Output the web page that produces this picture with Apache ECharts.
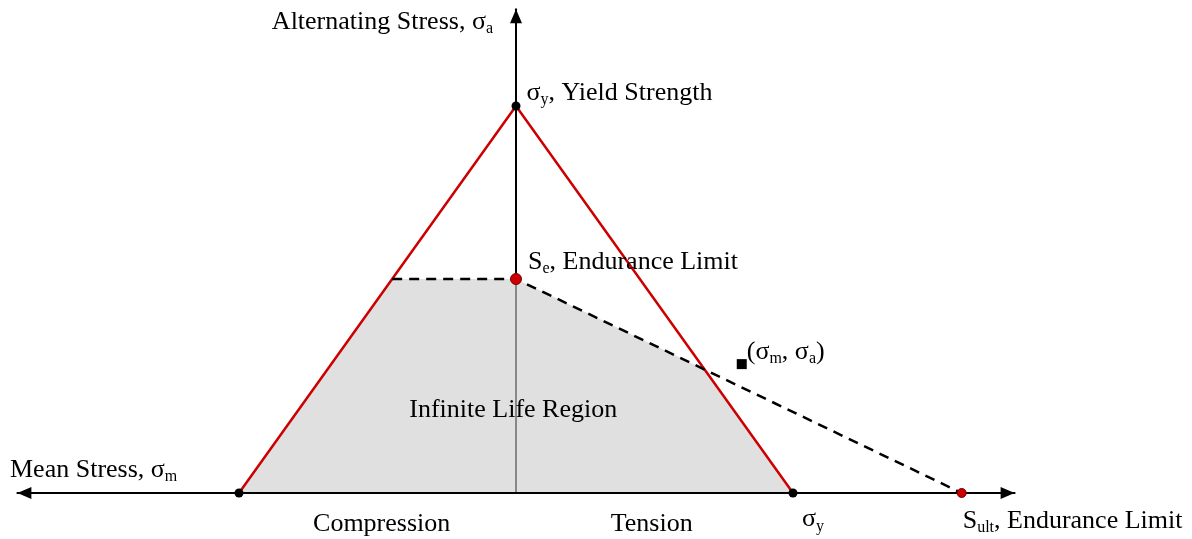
<!DOCTYPE html>
<html><head><meta charset="utf-8">
<script src="https://cdn.jsdelivr.net/npm/echarts@6/dist/echarts.min.js"></script>
<style>html,body{margin:0;padding:0;background:#fff}#c{width:1192px;height:539px}</style>
</head><body><div id="c"></div>
<script>
// Stress values, expressed as fractions of the yield strength σy
const yieldStrength = 1.0;        // σy
const enduranceLimit = 0.553;     // Se
const ultimateStrength = 1.609;   // Sult
const stressPoint = [0.815, 0.333];           // (σm, σa)
const regionNames = ['Compression', 'Tension'];
const regionCenters = [-0.485, 0.49];
const lifeRegionName = 'Infinite Life Region';
const lifeRegionAt = [-0.01, 0.215];
const xRange = [-1.8, 1.8];
const yRange = [0, 1.25];

// derived geometry (from the values above)
const sy = yieldStrength, se = enduranceLimit, su = ultimateStrength;
const yieldLine = [[-sy, 0], [0, sy], [sy, 0]];
const seLeft = [-(sy - se), se];               // Se level meets compressive yield line
const ix = (sy - se) / (1 - se / su);          // Goodman line meets tensile yield line
const goodmanYield = [ix, sy - ix];
const goodmanLine = [seLeft, [0, se], [su, 0]];
const safeRegion = [[-sy, 0], seLeft, [0, se], goodmanYield, [sy, 0]];

const FONT = 'Liberation Serif';
const FS = 26;
const rich = {
  n: { fontFamily: FONT, fontSize: FS, color: '#000', lineHeight: 30, textBorderWidth: 0 },
  s: { fontFamily: FONT, fontSize: 16, color: '#000', lineHeight: 16, padding: [14, 0, 0, 0], verticalAlign: 'bottom', textBorderWidth: 0 }
};
function lbl(extra) {
  return Object.assign({ show: true, fontFamily: FONT, fontSize: FS, color: '#000', opacity: 1, textBorderWidth: 0, rich: rich }, extra);
}
const TRI = 'path://M0,14 L6,0 L12,14 Z';

const chart = echarts.init(document.getElementById('c'), null, { renderer: 'canvas' });
chart.setOption({
  animation: false,
  backgroundColor: '#fff',
  grid: { left: 17.4, right: 177.4, top: 9.25, bottom: 46, containLabel: false, outerBoundsMode: 'none' },
  xAxis: {
    type: 'value', min: xRange[0], max: xRange[1], z: 3,
    axisLine: { show: true, onZero: true, symbol: [TRI, TRI], symbolSize: [12, 14], symbolOffset: [7, -7], lineStyle: { color: '#000', width: 2 } },
    axisTick: { show: false }, axisLabel: { show: false }, splitLine: { show: false },
    name: '{n|Mean Stress, σ}{s|m}', nameLocation: 'start', nameGap: 7.4, nameMoveOverlap: false,
    nameTextStyle: { align: 'left', verticalAlign: 'middle', padding: [0, 0, 46, 0], rich: rich }
  },
  yAxis: {
    type: 'value', min: yRange[0], max: yRange[1], z: 1,
    axisLine: { show: true, onZero: true, symbol: ['none', TRI], symbolSize: [12, 14], symbolOffset: [0, -7], lineStyle: { color: '#000', width: 2 } },
    axisTick: { show: false }, axisLabel: { show: false }, splitLine: { show: false },
    name: '{n|Alternating Stress, σ}{s|a}', nameLocation: 'end', nameGap: -13, nameMoveOverlap: false,
    nameTextStyle: { align: 'right', verticalAlign: 'middle', padding: [0, 23, 0, 0], rich: rich }
  },
  series: [
    { type: 'line', z: 2, data: safeRegion, showSymbol: false, symbol: 'none', silent: true,
      lineStyle: { width: 0 }, areaStyle: { color: 'rgba(208,208,208,0.655)', opacity: 1, origin: 0 } },
    { type: 'line', z: 4, data: yieldLine, symbol: 'none', lineStyle: { color: '#cc0000', width: 2.5 } },
    { type: 'line', z: 4, data: goodmanLine, symbol: 'none', lineStyle: { color: '#000', width: 2.5, type: [10, 7] } },
    { type: 'scatter', z: 6, symbol: 'circle', symbolSize: 9,
      itemStyle: { color: '#000', opacity: 1 },
      data: [
        { value: yieldLine[0] },
        { value: yieldLine[1], label: lbl({ formatter: '{n|σ}{s|y}{n|, Yield Strength}', position: 'right', distance: 6, offset: [0, -13] }) },
        { value: yieldLine[2], label: lbl({ formatter: '{n|σ}{s|y}', position: 'bottom', distance: 8, offset: [20, -1] }) }
      ] },
    { type: 'scatter', z: 6, symbol: 'circle',
      itemStyle: { color: '#cc0000', borderColor: '#700', borderWidth: 1, opacity: 1 },
      data: [
        { value: [0, se], symbolSize: 11, label: lbl({ formatter: '{n|S}{s|e}{n|, Endurance Limit}', position: 'right', distance: 6, offset: [0, -17] }) },
        { value: [su, 0], symbolSize: 9, label: lbl({ formatter: '{n|S}{s|ult}{n|, Endurance Limit}', position: 'bottom', align: 'left', distance: 8, offset: [1, 0] }) }
      ] },
    { type: 'scatter', z: 6, symbol: 'rect', symbolSize: 10, itemStyle: { color: '#000', opacity: 1 },
      data: [{ value: stressPoint, label: lbl({ formatter: '{n|(σ}{s|m}{n|, σ}{s|a}{n|)}', position: 'right', distance: 0, offset: [0, -12] }) }] },
    { type: 'scatter', z: 7, symbolSize: 0, silent: true, itemStyle: { opacity: 1 },
      data: [{ value: lifeRegionAt, label: lbl({ formatter: lifeRegionName, position: 'inside' }) }] },
    { type: 'scatter', z: 7, symbolSize: 0, silent: true, itemStyle: { opacity: 1 },
      data: regionNames.map((n, i) => ({ value: [regionCenters[i], 0], label: lbl({ formatter: n, position: 'bottom', distance: 18 }) })) }
  ]
});
</script></body></html>
